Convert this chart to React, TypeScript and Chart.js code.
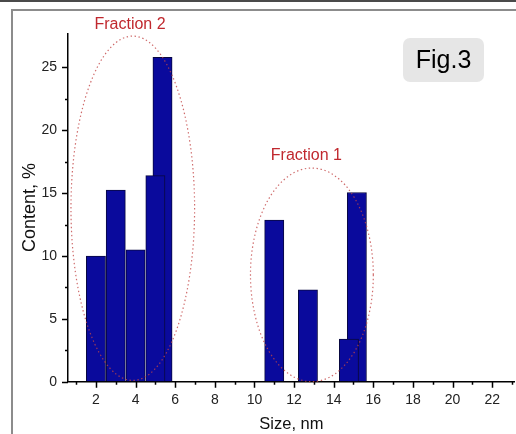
import React, { useEffect, useRef } from "react";
import { Chart, registerables } from "chart.js";

Chart.register(...registerables);

// ---- data ----
const fraction2Sizes = [2, 3, 4, 5.36, 5];
const fraction2Content = [10.0, 15.25, 10.5, 25.8, 16.4];
const fraction1Sizes = [11.0, 12.7, 15.17, 14.77];
const fraction1Content = [12.85, 7.3, 15.05, 3.4];
const binWidth = 0.97;

const xTickValues = [1, 2, 3, 4, 5, 6, 7, 8, 9, 10, 11, 12, 13, 14, 15, 16, 17, 18, 19, 20, 21, 22, 23];
const xLabelValues = [2, 4, 6, 8, 10, 12, 14, 16, 18, 20, 22];
const yTickValues = [0, 2.5, 5, 7.5, 10, 12.5, 15, 17.5, 20, 22.5, 25];
const yLabelValues = [0, 5, 10, 15, 20, 25];

// annotation ellipses in data units: [centerX, centerY, radiusX, radiusY]
const fraction2Ellipse = [3.86, 13.8, 3.12, 13.7];
const fraction1Ellipse = [12.9, 8.5, 3.1, 8.5];
const fraction2Label = { text: "Fraction 2", x: 3.72, y: 28.08 };
const fraction1Label = { text: "Fraction 1", x: 12.62, y: 17.65 };
const figLabel = "Fig.3";

const FONT = "'Liberation Sans', Arial, Helvetica, sans-serif";
const BAR_FILL = "#0a0a9c";
const BAR_EDGE = "#080840";
const RED = "#c0282e";

const App: React.FC = () => {
  const canvasRef = useRef<HTMLCanvasElement | null>(null);

  useEffect(() => {
    const canvas = canvasRef.current;
    if (!canvas) return;

    const decorations = {
      id: "decorations",
      beforeDatasetsUpdate(chart: any) {
        const xs = chart.scales.x;
        const w = Math.abs(xs.getPixelForValue(binWidth) - xs.getPixelForValue(0));
        chart.data.datasets.forEach((d: any) => {
          d.barThickness = w;
        });
      },
      beforeDraw(chart: any) {
        const ctx = chart.ctx;
        ctx.save();
        ctx.fillStyle = "#ffffff";
        ctx.fillRect(0, 0, chart.width, chart.height);
        // dark strip at very top
        ctx.fillStyle = "#4a4a4a";
        ctx.fillRect(0, 0, chart.width, 2);
        // gray frame
        ctx.strokeStyle = "#8c8c8c";
        ctx.lineWidth = 2;
        ctx.beginPath();
        ctx.moveTo(12, chart.height);
        ctx.lineTo(12, 10);
        ctx.lineTo(chart.width, 10);
        ctx.stroke();
        ctx.restore();
      },
      afterDraw(chart: any) {
        const ctx = chart.ctx;
        const xs = chart.scales.x;
        const ys = chart.scales.y;
        const area = chart.chartArea;
        ctx.save();
        // tick marks
        ctx.strokeStyle = "#000";
        ctx.lineWidth = 1.5;
        ctx.beginPath();
        xTickValues.forEach((v) => {
          const px = Math.round(xs.getPixelForValue(v)) + 0.5;
          const len = xLabelValues.includes(v) ? 6 : 3;
          ctx.moveTo(px, area.bottom);
          ctx.lineTo(px, area.bottom + len);
        });
        yTickValues.forEach((v) => {
          const py = Math.round(ys.getPixelForValue(v)) + 0.5;
          const len = yLabelValues.includes(v) ? 6 : 3;
          ctx.moveTo(area.left, py);
          ctx.lineTo(area.left - len, py);
        });
        ctx.stroke();

        // dotted ellipses
        const drawEllipse = (e: number[]) => {
          const cx = xs.getPixelForValue(e[0]);
          const cy = ys.getPixelForValue(e[1]);
          const rx = Math.abs(xs.getPixelForValue(e[0] + e[2]) - cx);
          const ry = Math.abs(ys.getPixelForValue(e[1] + e[3]) - cy);
          ctx.beginPath();
          ctx.ellipse(cx, cy, rx, ry, 0, 0, Math.PI * 2);
          ctx.stroke();
        };
        ctx.strokeStyle = "rgba(195,70,70,0.8)";
        ctx.lineWidth = 1.2;
        ctx.setLineDash([1.4, 2.6]);
        drawEllipse(fraction2Ellipse);
        drawEllipse(fraction1Ellipse);
        ctx.setLineDash([]);

        // fraction labels
        ctx.fillStyle = RED;
        ctx.font = `16px ${FONT}`;
        ctx.textAlign = "center";
        ctx.textBaseline = "alphabetic";
        [fraction2Label, fraction1Label].forEach((l) => {
          ctx.fillText(l.text, xs.getPixelForValue(l.x), ys.getPixelForValue(l.y));
        });

        // Fig.3 box
        const bx = 403, by = 38, bw = 81, bh = 44, r = 7;
        ctx.fillStyle = "#e6e6e6";
        ctx.beginPath();
        ctx.moveTo(bx + r, by);
        ctx.arcTo(bx + bw, by, bx + bw, by + bh, r);
        ctx.arcTo(bx + bw, by + bh, bx, by + bh, r);
        ctx.arcTo(bx, by + bh, bx, by, r);
        ctx.arcTo(bx, by, bx + bw, by, r);
        ctx.closePath();
        ctx.fill();
        ctx.fillStyle = "#000";
        ctx.font = `25px ${FONT}`;
        ctx.textAlign = "center";
        ctx.textBaseline = "middle";
        ctx.fillText(figLabel, bx + bw / 2, by + bh / 2 + 1);
        ctx.restore();
      },
    };

    const barStyle = {
      backgroundColor: BAR_FILL,
      borderColor: BAR_EDGE,
      borderWidth: 1,
      grouped: false,
    };

    const chart = new Chart(canvas, {
      type: "bar",
      data: {
        datasets: [
          {
            label: "Fraction 2",
            data: fraction2Sizes.map((x, i) => ({ x, y: fraction2Content[i] })),
            ...barStyle,
          },
          {
            label: "Fraction 1",
            data: fraction1Sizes.map((x, i) => ({ x, y: fraction1Content[i] })),
            ...barStyle,
          },
        ],
      } as any,
      options: {
        animation: false,
        responsive: false,
        devicePixelRatio: 1,
        layout: { padding: { left: 10, top: 33.3, right: 0, bottom: 0 } },
        plugins: {
          legend: { display: false },
          tooltip: { enabled: false },
        },
        scales: {
          x: {
            type: "linear",
            min: 0.59,
            max: 23.14,
            offset: false,
            afterBuildTicks: (scale: any) => {
              scale.ticks = xTickValues.map((v) => ({ value: v }));
            },
            afterFit: (scale: any) => {
              scale.height = 52.3;
            },
            ticks: {
              autoSkip: false,
              maxRotation: 0,
              minRotation: 0,
              padding: 4,
              color: "#222",
              font: { family: FONT, size: 14 },
              callback: (v: any) => (xLabelValues.includes(Number(v)) ? String(v) : ""),
            },
            grid: {
              drawOnChartArea: false,
              drawTicks: true,
              tickLength: 6,
              tickColor: "rgba(0,0,0,0)",
            },
            border: { display: true, color: "#000", width: 1.5 },
            title: {
              display: true,
              text: "Size, nm",
              color: "#111",
              font: { family: FONT, size: 16.5 },
              padding: 0,
            },
          },
          y: {
            type: "linear",
            min: 0,
            max: 27.72,
            afterBuildTicks: (scale: any) => {
              scale.ticks = yTickValues.map((v) => ({ value: v }));
            },
            afterFit: (scale: any) => {
              scale.width = 58;
            },
            ticks: {
              autoSkip: false,
              padding: 5,
              color: "#222",
              font: { family: FONT, size: 14 },
              callback: (v: any) => (yLabelValues.includes(Number(v)) ? String(v) : ""),
            },
            grid: {
              drawOnChartArea: false,
              drawTicks: true,
              tickLength: 6,
              tickColor: "rgba(0,0,0,0)",
            },
            border: { display: true, color: "#000", width: 1.5 },
            title: {
              display: true,
              text: "Content, %",
              color: "#111",
              font: { family: FONT, size: 18 },
              padding: 9,
            },
          },
        },
      } as any,
      plugins: [decorations],
    });

    return () => {
      chart.destroy();
    };
  }, []);

  return (
    <canvas
      ref={canvasRef}
      width={516}
      height={434}
      style={{ position: "absolute", left: 0, top: 0, width: 516, height: 434 }}
    />
  );
};

export default App;
